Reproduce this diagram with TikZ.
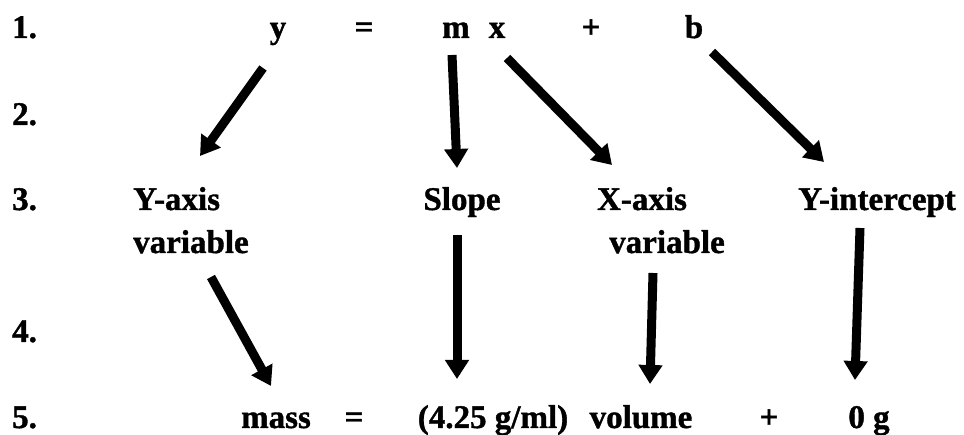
\documentclass[tikz,border=0pt]{standalone}
\usepackage{fontspec}
\setmainfont{Liberation Serif}[BoldFeatures={FakeBold=1.2}]
\usetikzlibrary{arrows.meta}
\tikzset{
  lbl/.style={inner sep=0pt, anchor=base, font=\fontsize{33}{38}\selectfont\bfseries},
  rowlbl/.style={lbl, anchor=base west},
  fatarrow/.style={line width=9pt, -{Triangle[width=23pt,length=19pt]}}
}
\begin{document}
\begin{tikzpicture}[x=1pt,y=-1pt]
\useasboundingbox (0,0) rectangle (964,435);
% row labels
\node[rowlbl] (r1) at (12,38) {1.};
\node[rowlbl] (r2) at (12,125) {2.};
\node[rowlbl] (r3) at (12,210) {3.};
\node[rowlbl] (r4) at (12,342) {4.};
\node[rowlbl] (r5) at (12,428) {5.};
% row 1
\node[lbl] (y) at (278,38) {y};
\node[lbl] (eq1) at (364,38) {=};
\node[lbl] (m) at (456,38) {m};
\node[lbl] (x) at (497,38) {x};
\node[lbl] (plus1) at (591,38) {+};
\node[lbl] (b) at (694,38) {b};
% row 3
\node[lbl, anchor=base west] (yaxis) at (133,210) {Y-axis};
\node[lbl, anchor=base west] (yvar) at (133,253) {variable};
\node[lbl] (slope) at (462,210) {Slope};
\node[lbl] (xaxis) at (642,210) {X-axis};
\node[lbl] (xvar) at (667,253) {variable};
\node[lbl] (yint) at (877,210) {Y-intercept};
% row 5
\node[lbl] (mass) at (276,428) {mass};
\node[lbl] (eq2) at (354,428) {=};
\node[lbl] (dens) at (493,428) {(4.25 g/ml)};
\node[lbl] (vol) at (641,428) {volume};
\node[lbl] (plus2) at (769,428) {+};
\node[lbl] (zero) at (869,428) {0 g};
% arrow end points
\coordinate (yS) at (263,68);   \coordinate (yaxisT) at (200,156);
\coordinate (mS) at (452,55);   \coordinate (slopeT) at (457,168);
\coordinate (xS) at (507,58);   \coordinate (xaxisT) at (612,165);
\coordinate (bS) at (712,52);   \coordinate (yintT) at (824,162);
\coordinate (yvarS) at (211,277); \coordinate (massT) at (271,386);
\coordinate (slopeS) at (457,235); \coordinate (densT) at (457,379);
\coordinate (xvarS) at (653,273); \coordinate (volT) at (650,384);
\coordinate (yintS) at (860,228); \coordinate (zeroT) at (855,380);
% arrows
\draw[fatarrow] (yS) -- (yaxisT);
\draw[fatarrow] (mS) -- (slopeT);
\draw[fatarrow] (xS) -- (xaxisT);
\draw[fatarrow] (bS) -- (yintT);
\draw[fatarrow] (yvarS) -- (massT);
\draw[fatarrow] (slopeS) -- (densT);
\draw[fatarrow] (xvarS) -- (volT);
\draw[fatarrow] (yintS) -- (zeroT);
\end{tikzpicture}
\end{document}
